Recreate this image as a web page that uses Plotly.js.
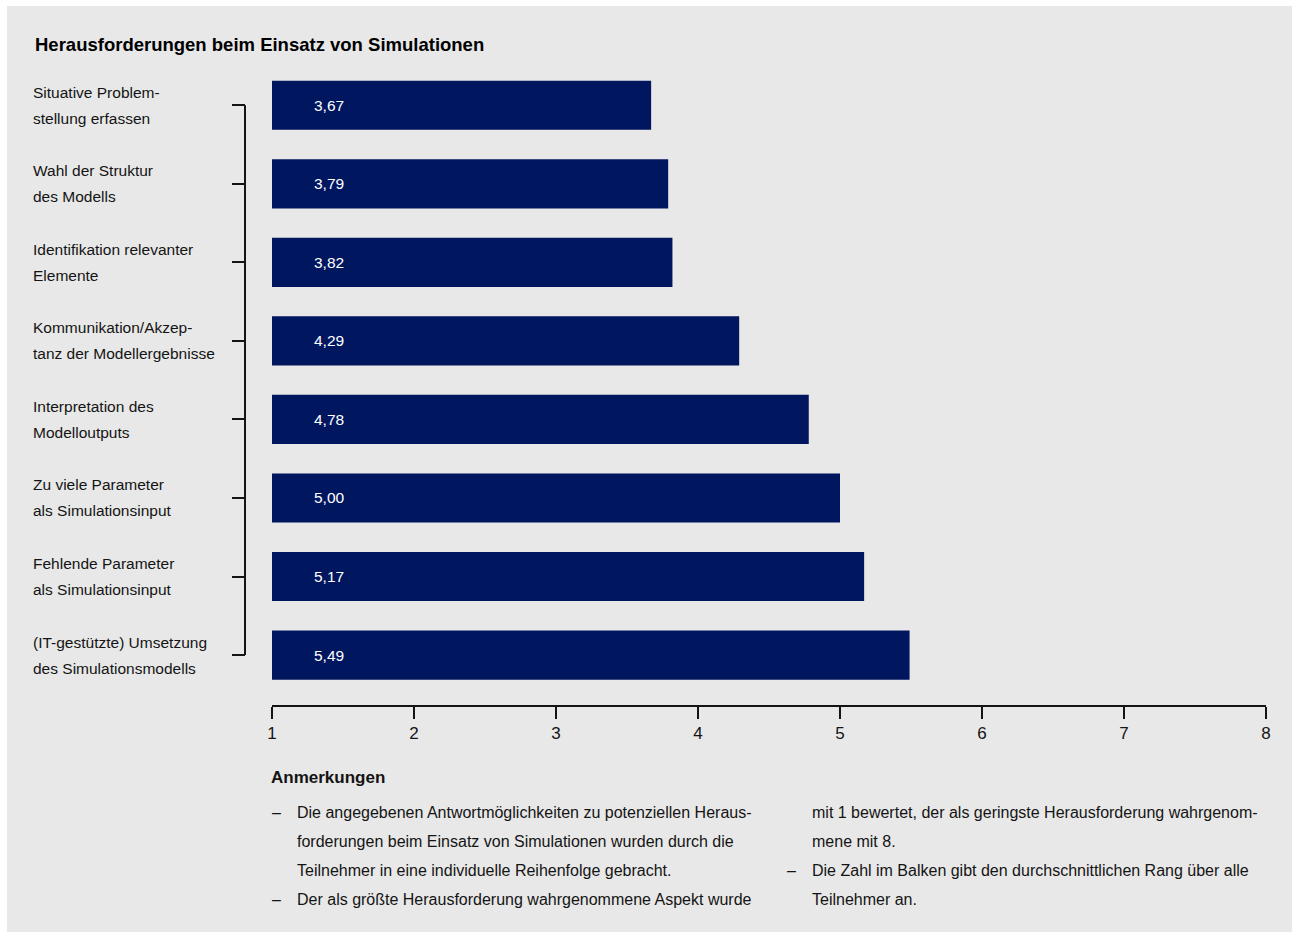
<!DOCTYPE html>
<html><head><meta charset="utf-8">
<script src="https://cdn.plot.ly/plotly-3.0.1.min.js"></script>
<style>
html,body{margin:0;padding:0;background:#fff;width:1292px;height:932px;overflow:hidden}
#chart{position:absolute;left:7px;top:6px;width:1285px;height:926px}
</style>
</head><body><div id="chart"></div>
<script>
const chartTitle = 'Herausforderungen beim Einsatz von Simulationen';
const categories = [
  'Situative Problemstellung erfassen',
  'Wahl der Struktur des Modells',
  'Identifikation relevanter Elemente',
  'Kommunikation/Akzeptanz der Modellergebnisse',
  'Interpretation des Modelloutputs',
  'Zu viele Parameter als Simulationsinput',
  'Fehlende Parameter als Simulationsinput',
  '(IT-gestützte) Umsetzung des Simulationsmodells'
];
const labelLines = [
  ['Situative Problem-', 'stellung erfassen'],
  ['Wahl der Struktur', 'des Modells'],
  ['Identifikation relevanter', 'Elemente'],
  ['Kommunikation/Akzep-', 'tanz der Modellergebnisse'],
  ['Interpretation des', 'Modelloutputs'],
  ['Zu viele Parameter', 'als Simulationsinput'],
  ['Fehlende Parameter', 'als Simulationsinput'],
  ['(IT-gestützte) Umsetzung', 'des Simulationsmodells']
];
const values = [3.67, 3.79, 3.82, 4.29, 4.78, 5.00, 5.17, 5.49];
const xTicks = [1, 2, 3, 4, 5, 6, 7, 8];
const notesTitle = 'Anmerkungen';
const notesLeft = [
  ['–', 'Die angegebenen Antwortmöglichkeiten zu potenziellen Heraus-'],
  ['', 'forderungen beim Einsatz von Simulationen wurden durch die'],
  ['', 'Teilnehmer in eine individuelle Reihenfolge gebracht.'],
  ['–', 'Der als größte Herausforderung wahrgenommene Aspekt wurde']
];
const notesRight = [
  ['', 'mit 1 bewertet, der als geringste Herausforderung wahrgenom-'],
  ['', 'mene mit 8.'],
  ['–', 'Die Zahl im Balken gibt den durchschnittlichen Rang über alle'],
  ['', 'Teilnehmer an.']
];

const FONT = 'Liberation Sans, Arial, sans-serif';
const TXT = '#141414';
const BAR = '#00165f';
const BG = '#e8e8e8';

// layout geometry (page pixels -> paper coords)
const W = 1285, H = 926, offX = 7, offY = 6;
const mL = 238, mR = 26, mT = 60, mB = 227;
const pW = W - mL - mR, pH = H - mT - mB;
const px = X => (X - offX - mL) / pW;
const py = Y => (H - mB - (Y - offY)) / pH;

const annotations = [];
// category labels (left aligned, two lines)
labelLines.forEach((lines, i) => {
  lines.forEach((ln, j) => {
    annotations.push({
      xref: 'paper', x: px(31), yref: 'y', y: i,
      yshift: (j === 0 ? 13 : -13),
      text: ln, showarrow: false, xanchor: 'left', yanchor: 'middle',
      align: 'left', font: {family: FONT, size: 15.5, color: TXT}
    });
  });
});
// value labels inside bars
values.forEach((v, i) => {
  annotations.push({
    xref: 'x', x: xTicks[0], yref: 'y', y: i, xshift: 40,
    text: v.toFixed(2).replace('.', ','), showarrow: false,
    xanchor: 'left', yanchor: 'middle',
    font: {family: FONT, size: 15.5, color: '#ffffff'}
  });
});
// notes
annotations.push({
  xref: 'paper', yref: 'paper', x: px(269), y: py(777), text: notesTitle,
  showarrow: false, xanchor: 'left', yanchor: 'middle',
  font: {family: FONT, size: 17, color: TXT, weight: 700}
});
const lineYs = [812, 841, 870, 899];
function addNotes(list, dashX, textX) {
  list.forEach((item, k) => {
    if (item[0]) annotations.push({
      xref: 'paper', yref: 'paper', x: px(dashX), y: py(lineYs[k]), text: item[0],
      showarrow: false, xanchor: 'left', yanchor: 'middle',
      font: {family: FONT, size: 16, color: TXT}
    });
    annotations.push({
      xref: 'paper', yref: 'paper', x: px(textX), y: py(lineYs[k]), text: item[1],
      showarrow: false, xanchor: 'left', yanchor: 'middle',
      font: {family: FONT, size: 16, color: TXT}
    });
  });
}
addNotes(notesLeft, 270, 295);
addNotes(notesRight, 785, 810);

const data = [{
  type: 'bar', orientation: 'h',
  y: categories, x: values,
  marker: {color: BAR, line: {width: 0}},
  width: 0.626, hoverinfo: 'skip'
}];

const layout = {
  width: W, height: H,
  margin: {l: mL, r: mR, t: mT, b: mB, pad: 0},
  paper_bgcolor: BG, plot_bgcolor: BG,
  showlegend: false,
  title: {
    text: chartTitle, xref: 'container', yref: 'container',
    x: (35 - offX) / W, xanchor: 'left',
    y: 1 - (45 - offY) / H, yanchor: 'middle',
    font: {family: FONT, size: 18.5, color: '#000', weight: 700}
  },
  xaxis: {
    domain: [px(272), 1],
    range: [xTicks[0], xTicks[xTicks.length - 1]],
    tickvals: xTicks, ticktext: xTicks.map(String),
    ticks: 'outside', ticklen: 12, tickwidth: 2, tickcolor: TXT,
    showline: true, linewidth: 2, linecolor: TXT,
    showgrid: false, zeroline: false,
    tickfont: {family: FONT, size: 17, color: TXT},
    fixedrange: true
  },
  yaxis: {
    type: 'category', categoryarray: categories, categoryorder: 'array',
    range: [-0.5 + pH / 78.54, -0.5],
    anchor: 'free', position: 0,
    ticks: 'outside', ticklen: 13, tickwidth: 2, tickcolor: TXT,
    showticklabels: false, showline: false, showgrid: false, zeroline: false,
    fixedrange: true
  },
  shapes: [{
    type: 'line', xref: 'paper', yref: 'y',
    x0: 0, x1: 0, y0: 0, y1: categories.length - 1,
    line: {color: TXT, width: 2}
  }],
  annotations: annotations
};

Plotly.newPlot('chart', data, layout, {displayModeBar: false, staticPlot: true});
</script>
</body></html>
